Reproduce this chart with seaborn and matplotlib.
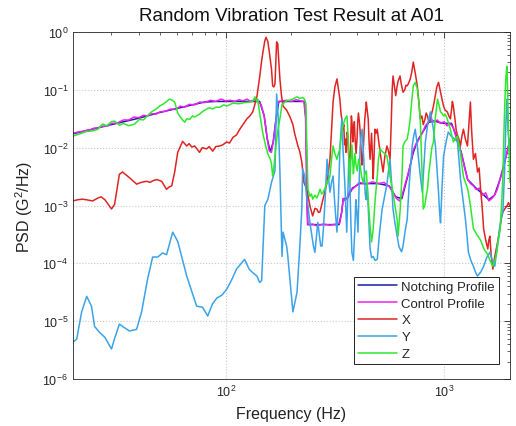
import numpy as np
import pandas as pd
import matplotlib
matplotlib.use("Agg")
import matplotlib.pyplot as plt
import seaborn as sns

# ---------------- data (frequency in Hz, PSD as log10 exponent) ----------------
notch_f = [20, 30, 40, 50, 60, 70, 80, 90, 100, 120, 143, 150, 155, 160, 165, 170, 175, 200, 229,
           233, 237, 330, 340, 345, 360, 380, 410, 500, 560, 600, 640, 680, 720, 750, 800,
           850, 900, 1000, 1080, 1150, 1200, 1280, 1400, 1500, 1600, 1700, 1800, 1860, 1940, 2000]
notch_e = [-1.76, -1.60, -1.49, -1.39, -1.32, -1.26, -1.21, -1.20, -1.20, -1.20, -1.20, -1.45, -1.85,
           -2.07, -1.90, -1.50, -1.20, -1.20, -1.20,
           -1.50, -3.33, -3.33, -3.10, -2.88, -2.88, -2.70, -2.62, -2.62, -2.66, -2.85, -2.88, -2.50,
           -2.10, -1.90, -1.72, -1.56, -1.54, -1.58, -1.58, -1.85, -2.10, -2.55, -2.70, -2.80, -2.90,
           -2.82, -2.55, -2.35, -2.08, -1.85]

ctrl_f = [20, 21, 22, 23, 24, 25, 26, 27, 28, 29, 30, 32, 34, 36, 38, 40, 42, 44, 46, 48, 50,
          53, 56, 59, 62, 65, 68, 72, 76, 80, 85, 90, 95, 100, 105, 110, 115, 120, 125, 130,
          135, 140, 145, 150, 155, 158, 162, 165, 170, 173, 176, 190, 200, 210, 220, 228,
          232, 235, 238, 250, 260, 280, 300, 320, 333, 340, 345, 352, 360, 370, 380, 395,
          410, 440, 470, 500, 530, 560, 585, 605, 625, 640, 660, 680, 700, 720, 740, 760,
          780, 800, 820, 850, 880, 900, 930, 960, 1000, 1030, 1060, 1100, 1150, 1200, 1240,
          1280, 1320, 1360, 1400, 1450, 1500, 1550, 1600, 1650, 1700, 1750, 1800, 1860,
          1900, 1940, 2000]
ctrl_e = [-1.75, -1.73, -1.72, -1.70, -1.69, -1.66, -1.66, -1.63, -1.63, -1.62, -1.58, -1.57,
          -1.52, -1.52, -1.47, -1.48, -1.44, -1.45, -1.41, -1.42, -1.38, -1.37, -1.33, -1.34,
          -1.28, -1.30, -1.25, -1.26, -1.21, -1.22, -1.18, -1.20, -1.16, -1.19, -1.18, -1.20,
          -1.17, -1.19, -1.16, -1.20, -1.17, -1.19, -1.25, -1.45, -1.85, -2.05, -2.08, -1.90,
          -1.50, -1.25, -1.20, -1.18, -1.20, -1.17, -1.19, -1.20,
          -1.50, -3.00, -3.33, -3.32, -3.35, -3.32, -3.34, -3.32, -3.30, -3.10, -2.88, -2.92,
          -2.86, -2.74, -2.72, -2.66, -2.60, -2.63, -2.59, -2.62, -2.60, -2.67, -2.78, -2.88,
          -2.92, -2.84, -2.65, -2.48, -2.30, -2.05, -1.95, -1.88, -1.80, -1.72, -1.62, -1.55,
          -1.52, -1.56, -1.52, -1.58, -1.55, -1.62, -1.58, -1.65, -1.90, -2.10, -2.35, -2.55,
          -2.62, -2.66, -2.72, -2.70, -2.82, -2.78, -2.92, -2.88, -2.82, -2.72, -2.55, -2.38,
          -2.22, -2.08, -1.85]

x_f = [20, 21, 22.1, 23, 24.6, 26, 26.9, 28, 30, 31, 32.6, 33.7, 35, 36.3, 39.1, 41, 43.4, 45,
       46.5, 48.3, 50.9, 53.6, 55, 56.6, 58.4, 60.3, 63.5, 66.3, 68, 70, 72.1, 75.9, 78, 81.8,
       84, 87.2, 90, 93.9, 97, 101, 104, 108, 112, 116, 120, 125, 129, 133, 136, 139, 143, 146,
       148, 151, 153, 156, 159, 162, 164, 166, 168, 171, 173, 177, 180, 183, 190, 197, 203,
       207, 214, 218, 223, 228, 235, 243, 250, 256, 261, 266, 270, 279, 291,
       300, 305, 310, 316, 323, 328, 333, 337, 341, 344, 347, 350, 353, 355, 358, 360, 362,
       365, 368, 370, 373, 376, 379, 382, 385, 388, 391, 395, 399, 402, 405, 409, 412, 416,
       420, 423, 426, 430, 433, 437, 440, 444, 449, 453, 458, 461, 465, 469, 473, 477, 482,
       488, 494, 500, 509, 517, 525, 535, 547, 555, 565, 572, 578, 583, 590, 600, 608, 615,
       622, 628, 636, 648, 660, 668, 677, 688, 699, 710, 722, 730, 740, 753, 765, 777, 790,
       802, 815, 827, 838, 850, 865, 878, 893, 910, 925, 942, 955, 970, 982, 993, 1010, 1033,
       1050, 1067, 1080, 1090, 1101, 1120, 1135, 1150, 1168, 1187, 1205, 1225, 1250, 1278,
       1300, 1318, 1335, 1361, 1390, 1421, 1445, 1468, 1490, 1516, 1550, 1583, 1600, 1618,
       1640, 1670, 1700, 1742, 1770, 1798, 1830, 1856, 1900, 1935, 1970, 2000]
x_e = [-2.92, -2.90, -2.89, -2.90, -2.92, -2.87, -2.85, -2.90, -3.06, -2.98, -2.46, -2.42, -2.47,
       -2.52, -2.63, -2.60, -2.58, -2.60, -2.57, -2.55, -2.58, -2.72, -2.68, -2.66, -2.42,
       -2.08, -1.89, -1.97, -1.93, -1.99, -1.97, -2.08, -2.00, -2.02, -1.98, -2.06, -1.98,
       -1.97, -1.95, -1.90, -1.92, -1.82, -1.78, -1.68, -1.60, -1.50, -1.45, -1.38, -1.25,
       -1.11, -0.78, -0.50, -0.35, -0.15, -0.09, -0.17, -0.40, -0.64, -0.93, -0.95, -0.90,
       -0.17, -0.20, -0.81, -1.10, -1.28, -1.35, -1.47, -1.60, -1.76, -1.97, -2.06, -2.25,
       -2.60, -2.72, -3.01, -3.18, -3.05, -3.06, -3.12, -3.11, -2.89, -2.60,
       -2.20, -1.70, -1.21, -0.95, -0.81, -0.98, -1.16, -1.40, -1.55, -1.68, -1.60, -1.95,
       -1.85, -2.08, -1.90, -1.73, -1.80, -2.10, -2.20, -2.37, -1.90, -1.45, -1.60, -1.90,
       -1.70, -1.55, -1.85, -2.10, -1.85, -1.55, -1.40, -1.55, -1.70, -2.00, -2.30, -2.20,
       -2.05, -1.75, -1.50, -1.35, -1.21, -1.35, -1.50, -1.90, -2.20, -2.00, -1.75, -2.10,
       -2.54, -2.20, -1.68, -1.75, -1.68, -1.85, -2.08, -2.25, -2.42, -2.15, -1.97, -2.05,
       -2.20, -1.60, -1.00, -0.76, -0.90, -1.10, -0.95, -0.85, -0.80, -0.76, -0.90, -1.04,
       -1.00, -0.92, -0.93, -0.88, -0.81, -0.70, -0.52, -0.62, -0.75, -0.93, -1.20, -1.50,
       -1.45, -1.60, -1.52, -1.40, -1.45, -1.55, -1.50, -1.40, -1.28, -1.10, -0.95, -0.87,
       -0.98, -1.10, -1.20, -1.28, -1.35, -1.38, -1.45, -1.50, -1.35, -1.20, -1.28, -1.50,
       -1.70, -1.78, -1.85, -1.97, -1.80, -1.68, -1.85, -1.97, -1.55, -1.21, -1.70, -2.20,
       -2.10, -2.42, -2.35, -2.72, -3.00, -3.41, -3.60, -3.75, -3.60, -3.53, -3.85, -4.10,
       -3.90, -3.70, -3.55, -3.41, -3.20, -3.11, -3.05, -3.01, -2.95, -3.01]

y_f = [20, 20.8, 21.9, 23.1, 24.3, 25.1, 26.4, 28, 30, 31, 32.6, 34, 36.3, 39.1, 41.2, 43.9,
       46.3, 48.9, 51.4, 53.6, 57.2, 60.3, 66.3, 73.6, 78.4, 82.7, 87, 91.1, 96, 101, 106,
       112, 119, 122, 128, 132, 139, 143, 146, 151, 156, 162, 168, 171, 174, 177, 181, 183,
       190, 192, 203, 212, 218, 223,
       225, 230, 234, 238, 243, 248, 252, 256, 260, 264, 268, 272, 276, 280, 285, 291, 295,
       300, 305, 310, 316, 323, 328, 333, 337, 340, 345, 351, 355, 358, 362, 366, 370, 374,
       378, 384, 390, 394, 398, 403, 408, 412, 416, 421, 426, 431, 435, 440, 444, 450, 458,
       465, 473, 483, 494, 505, 520, 533, 547, 556, 565, 574, 583, 595, 609, 620, 628, 638,
       648, 662, 677, 690, 699, 714, 725, 737, 750, 761, 778, 794, 808, 820, 840, 865, 890,
       912, 928, 942, 952, 962, 977, 993, 1020, 1044, 1067, 1090, 1120, 1150, 1168, 1187,
       1220, 1251, 1270, 1291, 1325, 1361, 1390, 1421, 1470, 1516, 1565, 1618, 1660, 1705,
       1750, 1798, 1830, 1856, 1890, 1915, 1935, 1960, 2000]
y_e = [-5.36, -5.31, -4.84, -4.57, -4.74, -5.09, -5.19, -5.28, -5.48, -5.30, -5.05, -5.10,
       -5.17, -5.14, -4.84, -4.27, -3.89, -3.89, -3.82, -3.85, -3.46, -3.62, -4.22, -4.74,
       -4.76, -4.91, -4.70, -4.60, -4.55, -4.45, -4.30, -4.10, -3.98, -3.93, -4.10, -4.15,
       -4.22, -4.33, -4.30, -3.00, -2.89, -2.60, -2.40, -1.07, -1.50, -2.40, -3.88, -3.46,
       -3.70, -3.84, -4.84, -4.50, -3.75, -3.06,
       -2.37, -2.49, -2.80, -3.01, -3.30, -3.53, -3.70, -3.81, -3.55, -3.29, -3.50, -3.70,
       -3.70, -3.40, -2.90, -2.20, -2.50, -2.77, -2.60, -2.49, -3.00, -3.46, -2.90, -2.02,
       -1.70, -1.51, -2.10, -2.63, -3.10, -3.46, -2.80, -2.20, -2.60, -3.30, -3.81, -3.95,
       -3.40, -2.90, -3.10, -3.46, -2.60, -2.00, -1.80, -1.68, -2.02, -2.40, -2.80, -2.90,
       -2.63, -3.10, -3.75, -3.90, -3.88, -3.95, -3.93, -3.50, -3.06, -2.85, -2.63, -2.40,
       -2.20, -2.60, -3.06, -3.30, -3.53, -3.70, -3.75, -3.80, -3.70, -3.45, -3.24, -2.70,
       -2.40, -1.97, -1.80, -1.68, -1.90, -2.15, -2.50, -2.77, -2.30, -1.90, -1.60, -1.38,
       -1.65, -1.97, -2.40, -2.77, -3.10, -3.30, -2.70, -2.15, -1.90, -1.73, -1.78, -1.82,
       -1.85, -1.90, -2.20, -2.54, -2.90, -3.24, -3.50, -3.81, -3.95, -4.05, -4.15, -4.22,
       -4.15, -4.05, -3.90, -3.81, -3.95, -4.05, -3.70, -3.36, -3.20, -3.11, -2.40, -1.60,
       -1.16, -1.70, -2.08]

z_f = [20, 21.5, 23, 24.5, 26, 27.3, 28.5, 30, 31, 32.6, 34, 36, 38.3, 40.3, 42, 44, 45.8, 48,
       49.8, 52, 55.3, 57, 58.4, 60.3, 61.5, 63.5, 64.9, 66.3, 68.4, 70.6, 72, 75.9, 78, 81.8,
       84.4, 87.2, 90, 93.9, 98, 101, 105, 108, 115, 122, 129, 133, 136, 139, 140, 143, 148,
       152, 156, 160, 162, 164, 166, 170, 173, 177, 181, 190, 200, 212, 218, 225,
       230, 233, 235, 238, 243, 247, 250, 256, 261, 266, 270, 275, 279, 285, 291, 296, 300,
       305, 310, 316, 323, 328, 333, 338, 345, 352, 359, 362, 365, 368, 370, 374, 378, 381,
       384, 387, 390, 395, 400, 406, 412, 419, 426, 433, 440, 449, 458, 465, 473, 483, 494,
       500, 509, 517, 525, 535, 547, 555, 565, 575, 583, 595, 609, 615, 628, 641, 648, 660,
       677, 688, 699, 710, 722, 737, 753, 765, 777, 785, 794, 802, 815, 826, 838, 850, 865,
       878, 893, 910, 932, 945, 962, 975, 993, 1010, 1033, 1050, 1067, 1085, 1101, 1125,
       1150, 1168, 1187, 1205, 1225, 1250, 1278, 1300, 1318, 1340, 1361, 1410, 1468, 1520,
       1583, 1620, 1670, 1705, 1742, 1770, 1798, 1830, 1856, 1875, 1895, 1915, 1935, 1945,
       1956, 1975, 2000]
z_e = [-1.80, -1.76, -1.72, -1.71, -1.68, -1.59, -1.62, -1.55, -1.54, -1.61, -1.58, -1.62,
       -1.59, -1.51, -1.52, -1.44, -1.38, -1.33, -1.28, -1.24, -1.16, -1.18, -1.21, -1.40,
       -1.45, -1.52, -1.56, -1.50, -1.51, -1.45, -1.47, -1.42, -1.38, -1.33, -1.31, -1.33,
       -1.30, -1.30, -1.26, -1.28, -1.25, -1.23, -1.24, -1.22, -1.21, -1.20, -1.12, -1.20,
       -1.16, -1.40, -1.76, -1.95, -2.11, -2.20, -2.28, -2.49, -2.35, -1.95, -1.71, -1.50,
       -1.25, -1.19, -1.17, -1.12, -1.15, -1.13,
       -1.17, -1.25, -2.00, -2.72, -2.84, -2.80, -2.89, -2.82, -2.87, -2.80, -2.72, -2.80,
       -2.77, -2.70, -2.60, -2.55, -2.49, -2.20, -1.97, -2.10, -2.20, -2.10, -2.02, -1.80,
       -1.60, -1.50, -1.45, -1.70, -2.10, -2.40, -2.60, -2.20, -1.95, -2.20, -2.45, -2.30,
       -2.10, -2.30, -2.40, -2.20, -2.30, -2.50, -2.60, -2.45, -2.40, -2.90, -3.36, -3.63,
       -3.41, -2.90, -2.49, -2.20, -2.02, -2.05, -2.08, -2.10, -2.15, -2.30, -2.49, -2.65,
       -2.77, -3.00, -3.24, -3.53, -3.10, -2.49, -1.97, -1.90, -1.85, -1.70, -1.50, -1.20,
       -0.93, -0.87, -0.98, -1.20, -1.50, -2.00, -2.60, -3.06, -3.00, -2.85, -2.72, -2.45,
       -2.20, -2.00, -1.90, -1.50, -1.16, -1.25, -1.38, -1.40, -1.45, -1.42, -1.50, -1.60,
       -1.68, -1.80, -1.90, -1.85, -1.80, -1.95, -2.10, -2.30, -2.50, -2.60, -2.70, -2.85,
       -3.00, -3.20, -3.40, -3.50, -3.60, -3.75, -3.85, -3.95, -4.05, -3.95, -3.80, -3.60,
       -3.45, -3.00, -2.50, -1.80, -1.21, -0.80, -0.59, -0.80, -1.20, -1.90, -2.60]

series_names = ["Notching Profile", "Control Profile", "X", "Y", "Z"]
series_colors = ["#1c1ca6", "#ee22ee", "#e02424", "#3aa3ea", "#2ee82e"]
x_major_ticks = [100, 1000]
y_major_ticks = [1e-6, 1e-5, 1e-4, 1e-3, 1e-2, 1e-1, 1e0]

frames = []
for name, f, e in zip(series_names,
                      [notch_f, ctrl_f, x_f, y_f, z_f],
                      [notch_e, ctrl_e, x_e, y_e, z_e]):
    frames.append(pd.DataFrame({"freq": f, "psd": np.power(10.0, np.array(e)), "series": name}))
df = pd.concat(frames, ignore_index=True)

# ---------------- plotting ----------------
sns.set_theme(style="white")
plt.rcParams["font.family"] = ["Liberation Sans", "DejaVu Sans"]
plt.rcParams["mathtext.fontset"] = "custom"
plt.rcParams["mathtext.rm"] = "Liberation Sans"

fig = plt.figure(figsize=(5.16, 4.27), dpi=100)
ax = fig.add_axes([0.1415, 0.110, 0.8468, 0.8126])

for name, col in zip(series_names, series_colors):
    sub = df[df["series"] == name]
    sns.lineplot(data=sub, x="freq", y="psd", ax=ax, color=col, lw=1.1,
                 label=name, sort=False, estimator=None)

ax.set_xscale("log")
ax.set_yscale("log")
ax.set_xlim(20, 2000)
ax.set_ylim(1e-6, 1)

tk = matplotlib.ticker
ax.xaxis.set_major_locator(tk.FixedLocator(x_major_ticks))
ax.yaxis.set_major_locator(tk.FixedLocator(y_major_ticks))
ax.xaxis.set_major_formatter(tk.LogFormatterSciNotation())
ax.yaxis.set_major_formatter(tk.LogFormatterSciNotation())
ax.xaxis.set_minor_locator(tk.FixedLocator([30, 40, 50, 60, 70, 80, 90, 200, 300, 400, 500,
                                            600, 700, 800, 900]))
ax.yaxis.set_minor_locator(tk.LogLocator(base=10, subs=np.arange(2, 10), numticks=20))
ax.xaxis.set_minor_formatter(tk.NullFormatter())
ax.yaxis.set_minor_formatter(tk.NullFormatter())

ax.grid(True, which="major", linestyle=":", color="#c8c8c8", linewidth=0.8)
ax.tick_params(which="both", direction="in", top=True, right=True,
               colors="#262626", labelsize=9)
ax.tick_params(which="major", length=4, width=0.6)
ax.tick_params(which="minor", length=2.2, width=0.5)
for s in ax.spines.values():
    s.set_color("#262626")
    s.set_linewidth(0.6)

ax.set_title("Random Vibration Test Result at A01", fontsize=13.5, pad=9, color="#111111")
ax.set_xlabel("Frequency (Hz)", fontsize=11.5, labelpad=5, color="#222222")
ax.set_ylabel("PSD (G$^2$/Hz)", fontsize=11.5, labelpad=5, color="#222222")

leg = ax.legend(loc="lower right", bbox_to_anchor=(0.975, 0.043), fontsize=9.5,
                frameon=True, fancybox=False, framealpha=1, edgecolor="#222222",
                handlelength=3.0, handletextpad=0.3, labelspacing=0.35,
                borderpad=0.3, borderaxespad=0.0)
leg.get_frame().set_linewidth(0.7)

fig.savefig("out.png", dpi=100)
